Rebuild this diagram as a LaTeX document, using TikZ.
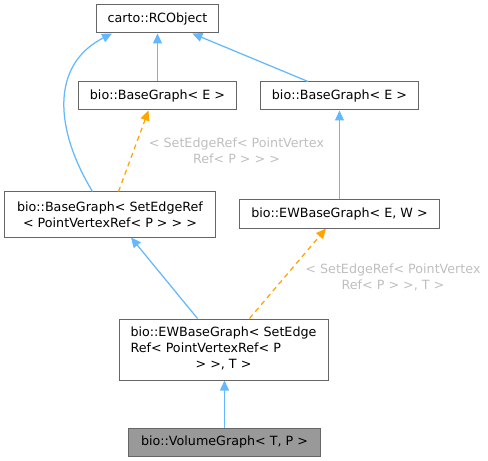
\documentclass[tikz,border=0pt]{standalone}
\usepackage{fontspec}
\setmainfont{DejaVu Sans}
\usetikzlibrary{arrows.meta,calc}
\definecolor{edgeblue}{HTML}{63B8FF}
\definecolor{edgeorange}{HTML}{FFA500}
\definecolor{boxgray}{HTML}{666666}
\definecolor{labelgray}{HTML}{BFBFBF}
\definecolor{volfill}{HTML}{999999}
\begin{document}
\begin{tikzpicture}[x=1bp,y=-1bp, font=\fontsize{12.7bp}{16bp}\selectfont,
  cls/.style={draw=boxgray, line width=1bp, fill=white, inner sep=0pt, align=center},
  inh/.style={draw=edgeblue, line width=1.25bp, -{Triangle[length=10bp,width=9bp]}},
  tmpl/.style={draw=edgeorange, line width=1.25bp, dash pattern=on 5bp off 4bp, -{Triangle[length=10bp,width=9bp]}},
  elabel/.style={text=labelgray, align=center, inner sep=0pt}]
\useasboundingbox (0,0) rectangle (488,461);
\node[cls, minimum width=122bp, minimum height=28bp] (rc) at (157.5,19) {carto::RCObject};
\node[cls, minimum width=158bp, minimum height=28bp] (bgl) at (157.5,96) {bio::BaseGraph< E >};
\node[cls, minimum width=158bp, minimum height=28bp] (bgr) at (339.5,96) {bio::BaseGraph< E >};
\node[cls, minimum width=210bp, minimum height=45bp] (bgs) at (110,214.5) {bio::BaseGraph< SetEdgeRef\\< PointVertexRef< P > > >};
\node[cls, minimum width=200bp, minimum height=28bp] (ewr) at (339.5,214) {bio::EWBaseGraph< E, W >};
\node[cls, minimum width=209bp, minimum height=61bp] (ews) at (223.5,349.5) {\begin{tabular}{@{}l@{}}bio::EWBaseGraph< SetEdge\\Ref< PointVertexRef< P\\\multicolumn{1}{@{}c@{}}{> >, T >}\end{tabular}};
\node[cls, fill=volfill, minimum width=192bp, minimum height=28bp] (vol) at (224.5,442) {bio::VolumeGraph< T, P >};

\draw[inh] (bgl) -- (rc);
\draw[inh] ($(bgr.north west)+(48,0)$) -- (rc);
\draw[inh] ($(bgs.north west)+(88,0)$) .. controls (55,130) and (50,65) .. ($(rc.south west)+(16,0)$);
\draw[tmpl] ($(bgs.north west)+(114,0)$) -- ($(bgl.south)+(-9,0)$);
\draw[inh] (ewr.north -| bgr.south) -- (bgr.south);
\draw[inh] ($(ews.north west)+(79,0)$) -- ($(bgs.south)+(21,0)$);
\draw[tmpl] ($(ews.north west)+(131,0)$) -- ($(ewr.south west)+(87,0)$);
\draw[inh] (vol.north) -- (vol.north |- ews.south);

\node[elabel] (l1) at (236.5,150.5) {< SetEdgeRef< PointVertex\\Ref< P > > >};
\node[elabel] (l2) at (393,277) {< SetEdgeRef< PointVertex\\Ref< P > >, T >};
\end{tikzpicture}
\end{document}
